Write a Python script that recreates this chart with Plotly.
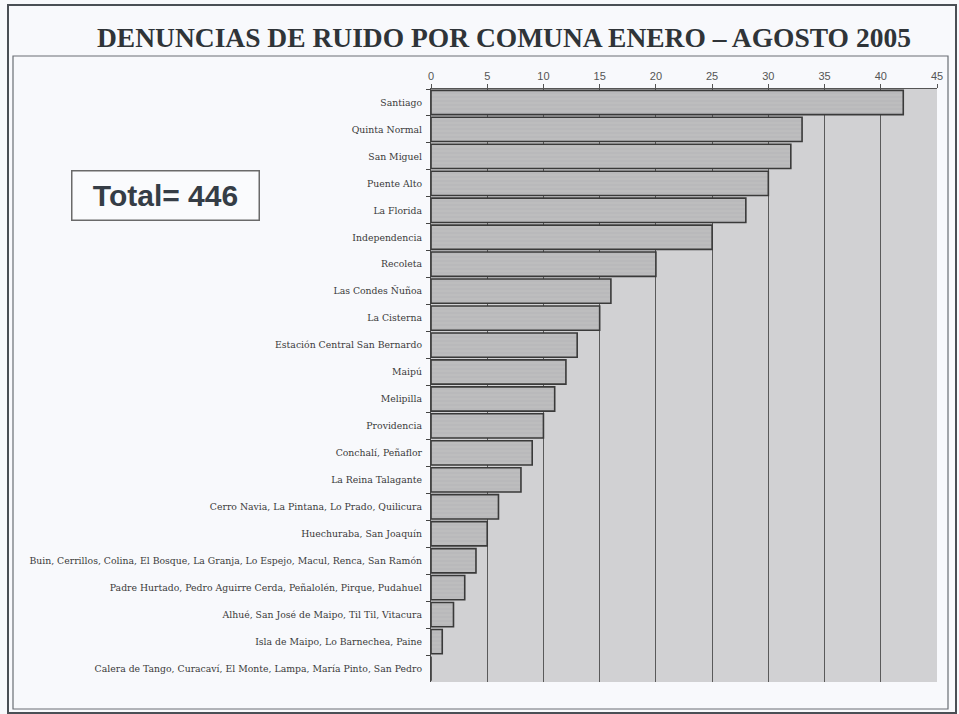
import plotly.graph_objects as go

# Noise complaints per commune group, January - August 2005
comunas = [
    "Santiago",
    "Quinta Normal",
    "San Miguel",
    "Puente Alto",
    "La Florida",
    "Independencia",
    "Recoleta",
    "Las Condes Ñuñoa",
    "La Cisterna",
    "Estación Central San Bernardo",
    "Maipú",
    "Melipilla",
    "Providencia",
    "Conchalí, Peñaflor",
    "La Reina Talagante",
    "Cerro Navia, La Pintana, Lo Prado, Quilicura",
    "Huechuraba, San Joaquín",
    "Buin, Cerrillos, Colina, El Bosque, La Granja, Lo Espejo, Macul, Renca, San Ramón",
    "Padre Hurtado, Pedro Aguirre Cerda, Peñalolén, Pirque, Pudahuel",
    "Alhué, San José de Maipo, Til Til, Vitacura",
    "Isla de Maipo, Lo Barnechea, Paine",
    "Calera de Tango, Curacaví, El Monte, Lampa, María Pinto, San Pedro",
]
denuncias = [42, 33, 32, 30, 28, 25, 20, 16, 15, 13, 12, 11, 10, 9, 8, 6, 5, 4, 3, 2, 1, 0]
x_ticks = [0, 5, 10, 15, 20, 25, 30, 35, 40, 45]
total_label = "Total= 446"
title_text = "DENUNCIAS DE RUIDO POR COMUNA ENERO – AGOSTO 2005"

W, H = 959, 714
L, R, T, B = 431, 22, 89, 32
PW, PH = W - L - R, H - T - B


def px(x):
    return (x - L) / PW


def py(y):
    return 1 - (y - T) / PH


fig = go.Figure(
    go.Bar(
        x=denuncias,
        y=comunas,
        orientation="h",
        marker=dict(
            color="#b9b9bb",
            line=dict(color="#3a3a3a", width=1.6),
            pattern=dict(shape="-", fgcolor="#c6c6c8", size=4, solidity=0.25),
        ),
        width=0.9,
        hoverinfo="x+y",
    )
)

fig.update_layout(
    width=W,
    height=H,
    margin=dict(l=L, r=R, t=T, b=B),
    paper_bgcolor="#f8f9fc",
    plot_bgcolor="#d1d1d3",
    showlegend=False,
    bargap=0.1,
    xaxis=dict(
        side="top",
        range=[0, 45],
        tickvals=x_ticks,
        showgrid=True,
        gridcolor="#5a5a5a",
        gridwidth=1,
        zeroline=False,
        ticks="outside",
        ticklen=4,
        tickcolor="#555",
        showline=True,
        linecolor="#555",
        linewidth=1,
        tickfont=dict(family="Liberation Sans, Arial", size=11, color="#555"),
    ),
    yaxis=dict(
        autorange="reversed",
        tickson="boundaries",
        ticks="outside",
        ticklen=4,
        tickcolor="#444",
        showline=True,
        linecolor="#444",
        linewidth=1.2,
        showgrid=False,
        ticklabelstandoff=6,
        tickfont=dict(family="DejaVu Serif", size=9.3, color="#3a3a3a"),
    ),
    annotations=[
        dict(
            text="<b>" + title_text + "</b>",
            xref="paper", yref="paper",
            x=px(504), y=py(38),
            xanchor="center", yanchor="middle",
            showarrow=False,
            font=dict(family="Liberation Serif, Times New Roman", size=27.5, color="#2f3438"),
        ),
        dict(
            text="<b>" + total_label + "</b>",
            xref="paper", yref="paper",
            x=px(165), y=py(195),
            xanchor="center", yanchor="middle",
            showarrow=False,
            font=dict(family="Liberation Sans, Arial", size=30, color="#353d46"),
            bordercolor="#6a6a6a",
            borderwidth=1.5,
            borderpad=4,
            bgcolor="#fafbfd",
            width=178,
            height=40,
        ),
    ],
    shapes=[
        # outer frame
        dict(type="rect", xref="paper", yref="paper",
             x0=px(8), x1=px(956), y0=py(713), y1=py(5),
             line=dict(color="#4a4f55", width=2)),
        # inner frame around the chart
        dict(type="rect", xref="paper", yref="paper",
             x0=px(13), x1=px(948), y0=py(709), y1=py(56),
             line=dict(color="#6a6e74", width=1.2)),
    ],
)

fig.write_html("out.html")
